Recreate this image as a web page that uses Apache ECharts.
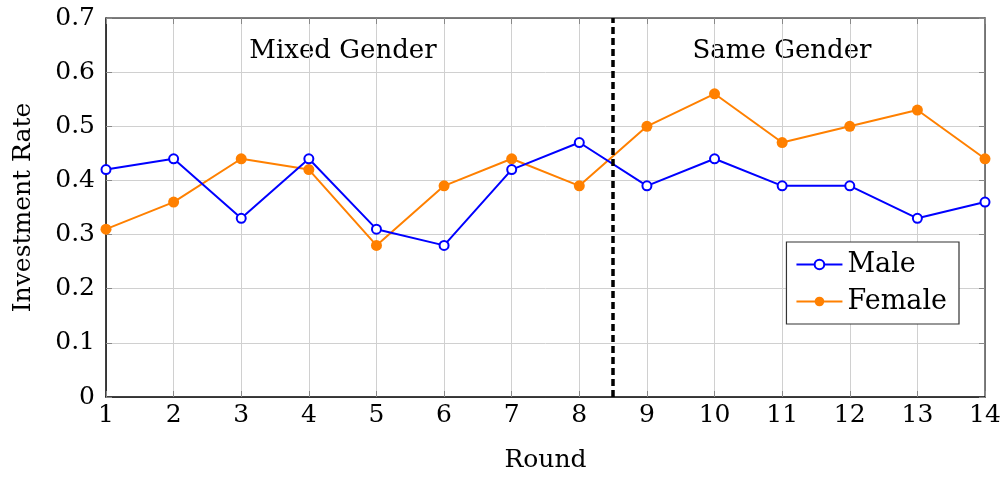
<!DOCTYPE html>
<html><head><meta charset="utf-8">
<script src="https://cdn.jsdelivr.net/npm/echarts@6/dist/echarts.min.js"></script>
<style>html,body{margin:0;padding:0;background:#fff}#c{width:1006px;height:478px}</style>
</head><body><div id="c"></div>
<script>
const rounds = [1,2,3,4,5,6,7,8,9,10,11,12,13,14];
const male = [0.42,0.44,0.33,0.44,0.31,0.28,0.42,0.47,0.39,0.44,0.39,0.39,0.33,0.36];
const female = [0.31,0.36,0.44,0.42,0.28,0.39,0.44,0.39,0.50,0.56,0.47,0.50,0.53,0.44];
const splitRound = 8.5;
const FONT = 'DejaVu Serif';
const FS = 25;
const chart = echarts.init(document.getElementById('c'));
const pair = arr => rounds.map((r,i)=>[r,arr[i]]);
chart.setOption({
  animation:false,
  textStyle:{fontFamily:FONT},
  grid:{left:106,right:21,top:18,bottom:81,containLabel:false,outerBoundsMode:'none'},
  legend:{
    right:47, top:242, orient:'vertical', itemGap:10, itemWidth:46, itemHeight:12,
    padding:[9,12,9,9], borderColor:'#333', borderWidth:1.2, backgroundColor:'#fff',
    textStyle:{fontFamily:FONT,fontSize:27,color:'#000'},
    data:['Male','Female']
  },
  xAxis:[{
    type:'value', min:1, max:14, interval:1,
    name:'Round', nameLocation:'middle', nameGap:51,
    nameTextStyle:{fontFamily:FONT,fontSize:FS,color:'#000'},
    axisLine:{show:true,lineStyle:{color:'#000',width:1.5}},
    axisTick:{show:true,inside:true,length:6,lineStyle:{color:'#888'}},
    axisLabel:{fontFamily:FONT,fontSize:FS,color:'#000',margin:6},
    splitLine:{show:true,lineStyle:{color:'#d0d0d0',width:1}}
  },{
    type:'value', min:1, max:14, interval:1, position:'top',
    axisLine:{show:true,onZero:false,lineStyle:{color:'#555',width:1.5}},
    axisTick:{show:true,inside:true,length:6,lineStyle:{color:'#888'}},
    axisLabel:{show:false}, splitLine:{show:false}
  }],
  yAxis:[{
    type:'value', min:0, max:0.7, interval:0.1,
    name:'Investment Rate', nameLocation:'middle', nameGap:70, nameRotate:90,
    nameTextStyle:{fontFamily:FONT,fontSize:FS,color:'#000'},
    axisLine:{show:true,lineStyle:{color:'#000',width:1.5}},
    axisTick:{show:true,inside:true,length:6,lineStyle:{color:'#888'}},
    axisLabel:{fontFamily:FONT,fontSize:FS,color:'#000',margin:11,formatter:v=>String(+v.toFixed(1))},
    splitLine:{show:true,lineStyle:{color:'#d0d0d0',width:1}}
  },{
    type:'value', min:0, max:0.7, interval:0.1, position:'right',
    axisLine:{show:true,onZero:false,lineStyle:{color:'#555',width:1.5}},
    axisTick:{show:true,inside:true,length:6,lineStyle:{color:'#888'}},
    axisLabel:{show:false}, splitLine:{show:false}
  }],
  series:[{
    name:'Male', type:'line', data:pair(male),
    symbol:'emptyCircle', symbolSize:9,
    lineStyle:{color:'#0000ff',width:2}, itemStyle:{color:'#0000ff',borderWidth:2},
    z:3,
    markLine:{silent:true,symbol:'none',label:{show:false},
      lineStyle:{color:'#000',width:3.5,type:[7,4]},
      data:[{xAxis:splitRound}]}
  },{
    name:'Female', type:'line', data:pair(female),
    symbol:'circle', symbolSize:11,
    lineStyle:{color:'#ff8000',width:2}, itemStyle:{color:'#ff8000'},
    z:2
  }],
  graphic:[
    {type:'text',style:{text:'Mixed Gender',x:343,y:51,align:'center',verticalAlign:'middle',fontFamily:FONT,fontSize:26,fill:'#000'}},
    {type:'text',style:{text:'Same Gender',x:782,y:51,align:'center',verticalAlign:'middle',fontFamily:FONT,fontSize:26,fill:'#000'}}
  ]
});
</script></body></html>
